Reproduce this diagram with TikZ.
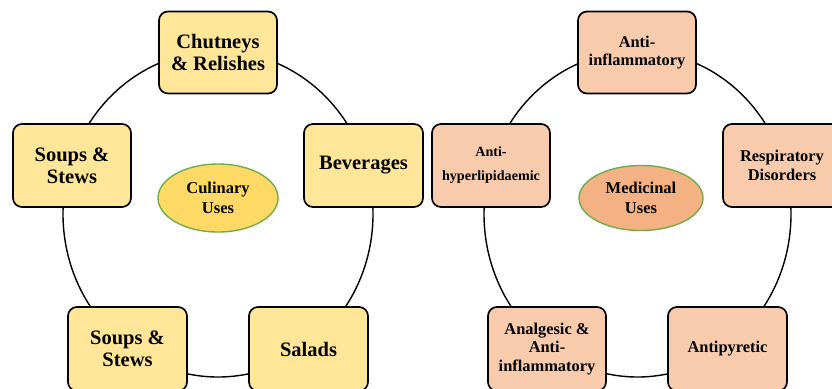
\documentclass[tikz,border=0pt]{standalone}
\usepackage{fontspec}
\setmainfont{Liberation Serif}
\usetikzlibrary{shapes.geometric}
\definecolor{culbox}{HTML}{FFE699}
\definecolor{medbox}{HTML}{F8CBAD}
\definecolor{culell}{HTML}{FFD966}
\definecolor{medell}{HTML}{F4B183}
\definecolor{ellline}{HTML}{70AD47}
\tikzset{
  usebox/.style={draw=black, line width=1.7pt, rounded corners=9pt, minimum width=118pt,
    minimum height=82pt, inner sep=0pt, align=center, font=\bfseries},
  culuse/.style={usebox, fill=culbox},
  meduse/.style={usebox, fill=medbox},
  hub/.style={ellipse, draw=ellline, line width=1.4pt, inner sep=0pt, align=center,
    font=\bfseries\fontsize{16.5}{20}\selectfont},
  ring/.style={draw=black, line width=1.4pt},
  big/.style={font=\bfseries\fontsize{20.5}{22}\selectfont},
  small/.style={font=\bfseries\fontsize{16.4}{18.5}\selectfont},
}
\begin{document}
\begin{tikzpicture}[x=1pt,y=-1pt]
\clip (0,0) rectangle (832,388);
\fill[white] (0,0) rectangle (832,388);
% rings
\draw[ring] (218,214) ellipse [x radius=155pt, y radius=163pt];
\draw[ring] (637.5,214) ellipse [x radius=153.5pt, y radius=163pt];
% culinary
\node[hub, fill=culell, minimum width=120pt, minimum height=68pt] (cu) at (218,198) {Culinary\\Uses};
\node[culuse, big] (cr) at (218,52.5) {Chutneys\\\& Relishes};
\node[culuse, big, minimum height=83pt, minimum width=119pt] (bev) at (363.5,165.5) {Beverages};
\node[culuse, big, minimum height=83pt] (sl) at (72,165.5) {Soups \&\\Stews};
\node[culuse, big, minimum height=84pt, minimum width=119pt] (sb) at (127.5,349) {Soups \&\\Stews};
\node[culuse, big, minimum height=84pt, minimum width=119pt] (sal) at (308.5,349) {Salads};
% medicinal
\node[hub, fill=medell, minimum width=124pt, minimum height=65pt] (mu) at (641,198) {Medicinal\\Uses};
\node[meduse, small] (ai) at (637,52.5) {Anti-\\inflammatory};
\node[meduse, small, minimum height=83pt] (rd) at (782,165.5) {Respiratory\\Disorders};
\node[meduse, font=\bfseries\fontsize{14.1}{24}\selectfont, minimum height=83pt] (ah) at (491,165.5) {Anti-\\hyperlipidaemic};
\node[meduse, small, minimum height=84pt] (an) at (547,349) {Analgesic \&\\Anti-\\inflammatory};
\node[meduse, small, minimum height=84pt, minimum width=119pt] (ap) at (727.5,349) {Antipyretic};
\end{tikzpicture}
\end{document}
